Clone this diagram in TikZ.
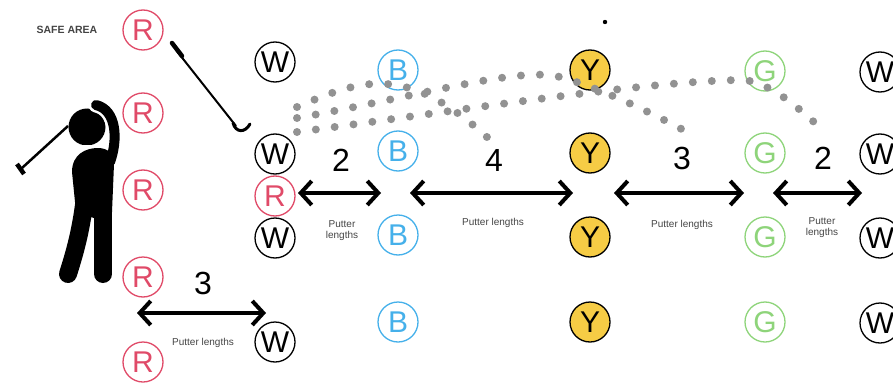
\documentclass[tikz,border=0pt]{standalone}
\usepackage{fontspec}
\setmainfont{Liberation Sans}
\usetikzlibrary{arrows.meta}
\definecolor{rred}{HTML}{E04A68}
\definecolor{bblue}{HTML}{45B0EA}
\definecolor{yfill}{HTML}{F6CC45}
\definecolor{ggreen}{HTML}{8ED47A}
\definecolor{dotgray}{HTML}{929292}
\definecolor{lblgray}{HTML}{444444}
\begin{document}
\begin{tikzpicture}[x=1pt,y=-1pt,
  ball/.style={circle, draw, minimum size=40pt, inner sep=0pt, line width=1.3pt, font=\fontsize{30}{30}\selectfont},
  rball/.style={ball, draw=rred, text=rred},
  wball/.style={ball, draw=black, text=black},
  bball/.style={ball, draw=bblue, text=bblue},
  yball/.style={ball, draw=black, fill=yfill, text=black},
  gball/.style={ball, draw=ggreen, text=ggreen},
  meas/.style={{Straight Barb[length=11pt,width=24pt]}-{Straight Barb[length=11pt,width=24pt]}, line width=4pt},
  bignum/.style={font=\fontsize{32}{32}\selectfont, inner sep=0pt},
  small/.style={font=\fontsize{10}{11}\selectfont, text=lblgray, align=center, inner sep=0pt},
  trail/.style={dotgray, line width=8pt, line cap=round, dash pattern=on 0pt off 19pt}
]
\useasboundingbox (0,0) rectangle (893,385);

% safe area label
\node[font=\fontsize{10.5}{11}\selectfont\bfseries, text=lblgray, inner sep=0pt] (safe) at (67,30) {SAFE AREA};

% golfer
\fill (87,127) circle (18.5);
\draw[white, line width=15pt, line cap=round] (96,105) .. controls (117,110) and (118,140) .. (110,162);
\draw[black, line width=10pt, line cap=round] (96,105) .. controls (117,110) and (118,140) .. (110,162);
\draw[white, line width=2pt] (78,146) -- (100,146);
\fill (72,172) .. controls (72,154) and (86,148) .. (98,148) .. controls (108,148) and (114,154) .. (114,164) -- (112,212) -- (94,218) -- (76,212) -- cycle;
\draw[line width=18pt, line cap=round] (84,205) .. controls (80,235) and (74,255) .. (68,274);
\draw[line width=18pt, line cap=round] (103,205) -- (103,274);
\draw[line width=2.5pt] (22,168) -- (68,126);
\draw[line width=4.5pt] (17,164) -- (24,174);

% loose club
\draw[line width=2pt] (176,50) -- (236,126);
\draw[line width=4.5pt, line cap=round] (172,43) -- (182,56);
\draw[line width=3pt, line cap=round] (233,123) .. controls (236,133) and (245,133) .. (250,124);

% column R (safe area)
\node[rball] (r1) at (143,30) {R};
\node[rball] (r2) at (143,113) {R};
\node[rball] (r3) at (143,190) {R};
\node[rball] (r4) at (143,277) {R};
\node[rball] (r5) at (143,362) {R};

% column W / R
\node[wball] (w1) at (275,62) {W};
\node[wball] (w2) at (275,154) {W};
\node[rball] (r6) at (275,196) {R};
\node[wball] (w3) at (275,238) {W};
\node[wball] (w4) at (275,342) {W};

% column B
\node[bball] (b1) at (398,70) {B};
\node[bball] (b2) at (398,151) {B};
\node[bball] (b3) at (398,235) {B};
\node[bball] (b4) at (398,322) {B};

% column Y
\node[yball] (y1) at (590,70) {Y};
\node[yball] (y2) at (590,153) {Y};
\node[yball] (y3) at (590,237) {Y};
\node[yball] (y4) at (590,322) {Y};
\fill (605,22) circle (2.2);

% column G
\node[gball] (g1) at (765,71) {G};
\node[gball] (g2) at (765,153) {G};
\node[gball] (g3) at (765,237) {G};
\node[gball] (g4) at (765,322) {G};

% column W right
\node[wball] (w5) at (880,72) {W};
\node[wball] (w6) at (880,154) {W};
\node[wball] (w7) at (880,238) {W};
\node[wball] (w8) at (880,323) {W};

% ball trails
\draw[trail] (297,107) .. controls (360,80) and (405,62) .. (488,138);
\draw[trail] (297,118) .. controls (420,96) and (520,66) .. (560,77) .. controls (600,88) and (650,112) .. (687,132);
\draw[trail] (297,132) .. controls (450,112) and (650,80) .. (745,80) .. controls (775,85) and (800,110) .. (823,130);

% measurement arrows
\coordinate (a1l) at (298,193); \coordinate (a1r) at (381,193);
\coordinate (a2l) at (410,193); \coordinate (a2r) at (573,193);
\coordinate (a3l) at (614,193); \coordinate (a3r) at (744,193);
\coordinate (a4l) at (773,193); \coordinate (a4r) at (862,193);
\coordinate (a5l) at (137,313); \coordinate (a5r) at (266,313);
\draw[meas] (a1l) -- (a1r);
\draw[meas] (a2l) -- (a2r);
\draw[meas] (a3l) -- (a3r);
\draw[meas] (a4l) -- (a4r);
\draw[meas] (a5l) -- (a5r);

\node[bignum] (n1) at (341,160) {2};
\node[bignum] (n2) at (494,160) {4};
\node[bignum] (n3) at (682,158) {3};
\node[bignum] (n4) at (823,158) {2};
\node[bignum] (n5) at (203,283) {3};

\node[small] (p1) at (342,231) {Putter\\lengths};
\node[small] (p2) at (493,223) {Putter lengths};
\node[small] (p3) at (682,225) {Putter lengths};
\node[small] (p4) at (822,228) {Putter\\lengths};
\node[small] (p5) at (203,343) {Putter lengths};
\end{tikzpicture}
\end{document}
